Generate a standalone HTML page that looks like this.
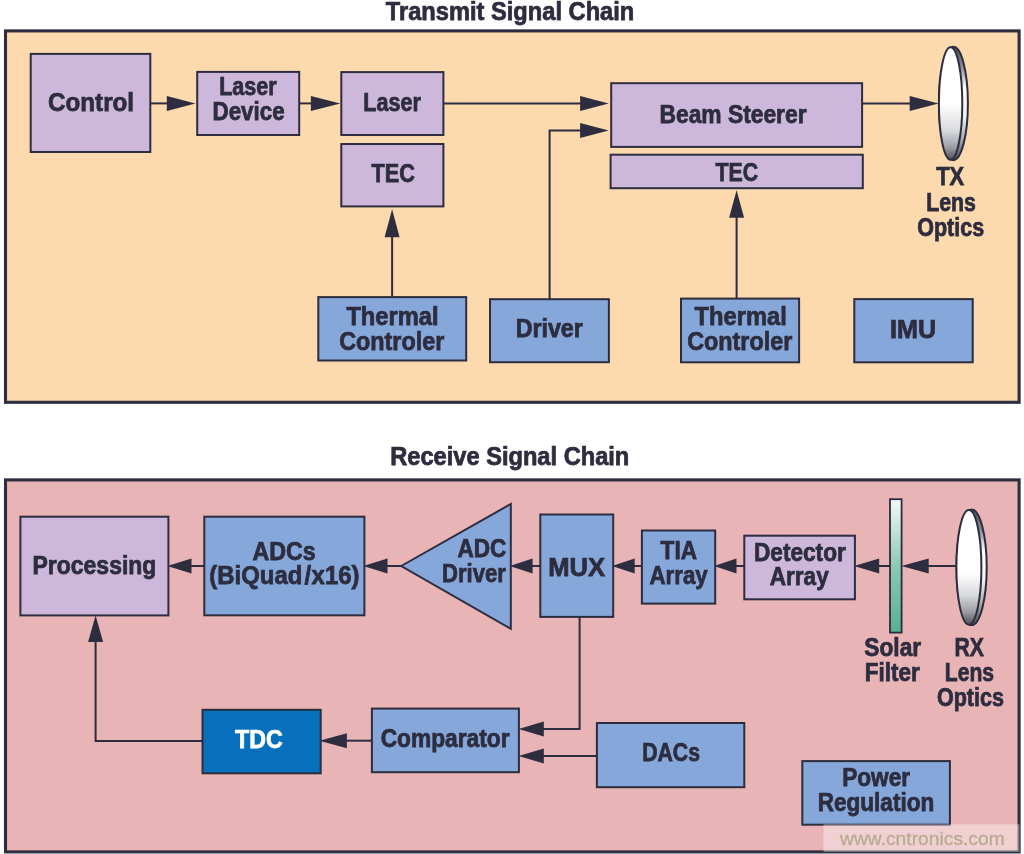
<!DOCTYPE html>
<html><head><meta charset="utf-8"><title>LIDAR Signal Chain</title>
<style>
html,body{margin:0;padding:0;background:#ffffff;}
body{width:1024px;height:854px;overflow:hidden;}
svg{display:block;will-change:transform;font-family:"Liberation Sans",sans-serif;}
</style></head><body>
<svg width="1024" height="854" viewBox="0 0 1024 854">
<defs>
<linearGradient id="lg1" x1="0" y1="0" x2="0" y2="1"><stop offset="0" stop-color="#ffffff"/><stop offset="0.5" stop-color="#ffffff"/><stop offset="0.74" stop-color="#d9dadd"/><stop offset="0.89" stop-color="#9c9da2"/><stop offset="1" stop-color="#4e5057"/></linearGradient>
<linearGradient id="lg1b" x1="0" y1="0" x2="0" y2="1"><stop offset="0" stop-color="#4b4d55"/><stop offset="0.18" stop-color="#8d8f96"/><stop offset="0.36" stop-color="#ffffff"/><stop offset="0.6" stop-color="#f4f4f4"/><stop offset="0.82" stop-color="#a9aaad"/><stop offset="1" stop-color="#4b4d52"/></linearGradient>
<linearGradient id="lg2" x1="0" y1="0" x2="0" y2="1"><stop offset="0" stop-color="#ffffff"/><stop offset="0.55" stop-color="#ffffff"/><stop offset="0.74" stop-color="#d9dadd"/><stop offset="0.89" stop-color="#9c9da2"/><stop offset="1" stop-color="#4e5057"/></linearGradient>
<linearGradient id="lg2b" x1="0" y1="0" x2="0" y2="1"><stop offset="0" stop-color="#4b4d55"/><stop offset="0.18" stop-color="#8d8f96"/><stop offset="0.36" stop-color="#ffffff"/><stop offset="0.6" stop-color="#f4f4f4"/><stop offset="0.82" stop-color="#a9aaad"/><stop offset="1" stop-color="#4b4d52"/></linearGradient>
<linearGradient id="flt" x1="0" y1="0" x2="0" y2="1"><stop offset="0" stop-color="#f4f9f6"/><stop offset="0.5" stop-color="#8cc9b2"/><stop offset="1" stop-color="#57b08f"/></linearGradient>
</defs>
<text x="385.86" y="20.20" font-size="25.3" font-weight="bold" fill="#2d2d3f" stroke="#2d2d3f" stroke-width="0.75" textLength="248.39" lengthAdjust="spacingAndGlyphs">Transmit Signal Chain</text>
<text x="390.25" y="465.40" font-size="25.3" font-weight="bold" fill="#2d2d3f" stroke="#2d2d3f" stroke-width="0.75" textLength="239.05" lengthAdjust="spacingAndGlyphs">Receive Signal Chain</text>
<rect x="5.5" y="30.9" width="1013.60" height="371.40" fill="#fdd9ae" stroke="#2d2d3f" stroke-width="3.1"/>
<path d="M151 103.4 L170 103.4" fill="none" stroke="#2d2d3f" stroke-width="2.0"/>
<polygon points="195.40,103.40 166.80,95.90 166.80,110.90" fill="#2d2d3f"/>
<path d="M300 103.4 L315 103.4" fill="none" stroke="#2d2d3f" stroke-width="2.0"/>
<polygon points="340.40,103.40 310.90,95.90 310.90,110.90" fill="#2d2d3f"/>
<path d="M444 103.4 L585 103.4" fill="none" stroke="#2d2d3f" stroke-width="2.0"/>
<polygon points="608.80,103.40 580.10,95.90 580.10,110.90" fill="#2d2d3f"/>
<path d="M549.6 299 L549.6 130.4 L585 130.4" fill="none" stroke="#2d2d3f" stroke-width="2.0"/>
<polygon points="608.80,130.40 580.10,122.90 580.10,137.90" fill="#2d2d3f"/>
<path d="M862 103.4 L912 103.4" fill="none" stroke="#2d2d3f" stroke-width="2.0"/>
<polygon points="938.60,103.40 909.70,95.90 909.70,110.90" fill="#2d2d3f"/>
<path d="M392.1 297 L392.1 235" fill="none" stroke="#2d2d3f" stroke-width="2.0"/>
<polygon points="392.10,209.20 384.60,237.20 399.60,237.20" fill="#2d2d3f"/>
<path d="M736.6 298 L736.6 216" fill="none" stroke="#2d2d3f" stroke-width="2.0"/>
<polygon points="736.60,190.20 729.10,217.80 744.10,217.80" fill="#2d2d3f"/>
<rect x="30.7" y="53.9" width="119.60" height="98.10" fill="#cdb8db" stroke="#2d2d3f" stroke-width="2"/>
<rect x="197.2" y="71.9" width="102.00" height="63.10" fill="#cdb8db" stroke="#2d2d3f" stroke-width="2"/>
<rect x="341.3" y="72.1" width="102.10" height="62.90" fill="#cdb8db" stroke="#2d2d3f" stroke-width="2"/>
<rect x="341.3" y="144" width="102.10" height="62.40" fill="#cdb8db" stroke="#2d2d3f" stroke-width="2"/>
<rect x="611.2" y="83.2" width="250.90" height="63.70" fill="#cdb8db" stroke="#2d2d3f" stroke-width="2"/>
<rect x="610.6" y="154.7" width="252.20" height="33.50" fill="#cdb8db" stroke="#2d2d3f" stroke-width="2"/>
<rect x="318.3" y="297.1" width="147.90" height="63.40" fill="#85a7d9" stroke="#2d2d3f" stroke-width="2"/>
<rect x="490" y="299.2" width="118.90" height="63.00" fill="#85a7d9" stroke="#2d2d3f" stroke-width="2"/>
<rect x="681" y="298.6" width="118.10" height="63.70" fill="#85a7d9" stroke="#2d2d3f" stroke-width="2"/>
<rect x="854.3" y="299.1" width="118.40" height="63.20" fill="#85a7d9" stroke="#2d2d3f" stroke-width="2"/>
<text x="48.09" y="110.60" font-size="25.3" font-weight="bold" fill="#2d2d3f" stroke="#2d2d3f" stroke-width="0.75" textLength="86.00" lengthAdjust="spacingAndGlyphs">Control</text>
<text x="219.20" y="95.10" font-size="25.3" font-weight="bold" fill="#2d2d3f" stroke="#2d2d3f" stroke-width="0.75" textLength="57.50" lengthAdjust="spacingAndGlyphs">Laser</text>
<text x="212.50" y="120.10" font-size="25.3" font-weight="bold" fill="#2d2d3f" stroke="#2d2d3f" stroke-width="0.75" textLength="72.10" lengthAdjust="spacingAndGlyphs">Device</text>
<text x="363.32" y="110.70" font-size="25.3" font-weight="bold" fill="#2d2d3f" stroke="#2d2d3f" stroke-width="0.75" textLength="57.63" lengthAdjust="spacingAndGlyphs">Laser</text>
<text x="371.43" y="181.80" font-size="25.3" font-weight="bold" fill="#2d2d3f" stroke="#2d2d3f" stroke-width="0.75" textLength="43.41" lengthAdjust="spacingAndGlyphs">TEC</text>
<text x="659.55" y="122.60" font-size="25.3" font-weight="bold" fill="#2d2d3f" stroke="#2d2d3f" stroke-width="0.75" textLength="146.99" lengthAdjust="spacingAndGlyphs">Beam Steerer</text>
<text x="715.44" y="180.60" font-size="25.3" font-weight="bold" fill="#2d2d3f" stroke="#2d2d3f" stroke-width="0.75" textLength="42.65" lengthAdjust="spacingAndGlyphs">TEC</text>
<text x="936.21" y="185.20" font-size="25.3" font-weight="bold" fill="#2d2d3f" stroke="#2d2d3f" stroke-width="0.75" textLength="27.97" lengthAdjust="spacingAndGlyphs">TX</text>
<text x="926.16" y="210.60" font-size="25.3" font-weight="bold" fill="#2d2d3f" stroke="#2d2d3f" stroke-width="0.75" textLength="49.78" lengthAdjust="spacingAndGlyphs">Lens</text>
<text x="917.15" y="235.80" font-size="25.3" font-weight="bold" fill="#2d2d3f" stroke="#2d2d3f" stroke-width="0.75" textLength="66.99" lengthAdjust="spacingAndGlyphs">Optics</text>
<text x="346.40" y="324.50" font-size="25.3" font-weight="bold" fill="#2d2d3f" stroke="#2d2d3f" stroke-width="0.75" textLength="92.16" lengthAdjust="spacingAndGlyphs">Thermal</text>
<text x="339.21" y="349.50" font-size="25.3" font-weight="bold" fill="#2d2d3f" stroke="#2d2d3f" stroke-width="0.75" textLength="105.01" lengthAdjust="spacingAndGlyphs">Controler</text>
<text x="515.63" y="337.40" font-size="25.3" font-weight="bold" fill="#2d2d3f" stroke="#2d2d3f" stroke-width="0.75" textLength="67.22" lengthAdjust="spacingAndGlyphs">Driver</text>
<text x="694.54" y="324.80" font-size="25.3" font-weight="bold" fill="#2d2d3f" stroke="#2d2d3f" stroke-width="0.75" textLength="92.19" lengthAdjust="spacingAndGlyphs">Thermal</text>
<text x="687.21" y="349.80" font-size="25.3" font-weight="bold" fill="#2d2d3f" stroke="#2d2d3f" stroke-width="0.75" textLength="105.01" lengthAdjust="spacingAndGlyphs">Controler</text>
<text x="890.00" y="337.50" font-size="25.3" font-weight="bold" fill="#2d2d3f" stroke="#2d2d3f" stroke-width="0.75" textLength="46.12" lengthAdjust="spacingAndGlyphs">IMU</text>
<ellipse cx="953.4" cy="103.5" rx="14.5" ry="56.699999999999996" fill="url(#lg1b)" stroke="#2d2d3f" stroke-width="2"/>
<ellipse cx="950.6" cy="103.5" rx="11.7" ry="56.3" fill="url(#lg1)" stroke="#2d2d3f" stroke-width="2"/>
<rect x="5.5" y="479.9" width="1013.60" height="372.00" fill="#e8b4b5" stroke="#2d2d3f" stroke-width="3.1"/>
<path d="M190 566 L204 566" fill="none" stroke="#2d2d3f" stroke-width="2.0"/>
<polygon points="167.30,566.00 191.50,558.50 191.50,573.50" fill="#2d2d3f"/>
<path d="M386 566 L402 566" fill="none" stroke="#2d2d3f" stroke-width="2.0"/>
<polygon points="363.30,566.00 387.50,558.50 387.50,573.50" fill="#2d2d3f"/>
<path d="M531 566 L540 566" fill="none" stroke="#2d2d3f" stroke-width="2.0"/>
<polygon points="509.70,566.00 532.60,558.50 532.60,573.50" fill="#2d2d3f"/>
<path d="M633 566 L642 566" fill="none" stroke="#2d2d3f" stroke-width="2.0"/>
<polygon points="612.00,566.00 634.70,558.50 634.70,573.50" fill="#2d2d3f"/>
<path d="M735 566 L744 566" fill="none" stroke="#2d2d3f" stroke-width="2.0"/>
<polygon points="714.00,566.00 736.50,558.50 736.50,573.50" fill="#2d2d3f"/>
<path d="M877 566 L890 566" fill="none" stroke="#2d2d3f" stroke-width="2.0"/>
<polygon points="854.10,566.00 879.20,558.50 879.20,573.50" fill="#2d2d3f"/>
<path d="M926 566 L956.5 566" fill="none" stroke="#2d2d3f" stroke-width="2.0"/>
<polygon points="901.40,566.00 928.70,558.50 928.70,573.50" fill="#2d2d3f"/>
<path d="M579.6 616 L579.6 729 L542 729" fill="none" stroke="#2d2d3f" stroke-width="2.0"/>
<polygon points="518.60,729.00 543.80,721.50 543.80,736.50" fill="#2d2d3f"/>
<path d="M597 755.9 L542 755.9" fill="none" stroke="#2d2d3f" stroke-width="2.0"/>
<polygon points="518.60,755.90 543.80,748.40 543.80,763.40" fill="#2d2d3f"/>
<path d="M371.5 740.7 L345 740.7" fill="none" stroke="#2d2d3f" stroke-width="2.0"/>
<polygon points="319.40,740.70 346.90,733.20 346.90,748.20" fill="#2d2d3f"/>
<path d="M202.5 740.9 L95.6 740.9 L95.6 640" fill="none" stroke="#2d2d3f" stroke-width="2.0"/>
<polygon points="95.60,615.60 88.10,642.10 103.10,642.10" fill="#2d2d3f"/>
<rect x="20.4" y="516.7" width="148.00" height="98.70" fill="#cdb8db" stroke="#2d2d3f" stroke-width="2"/>
<rect x="204.3" y="516.7" width="160.10" height="98.60" fill="#85a7d9" stroke="#2d2d3f" stroke-width="2"/>
<polygon points="401.2,566 510.8,504.0 510.8,628.8" fill="#85a7d9" stroke="#2d2d3f" stroke-width="2" stroke-linejoin="miter"/>
<rect x="540.3" y="514.5" width="72.90" height="102.40" fill="#85a7d9" stroke="#2d2d3f" stroke-width="2"/>
<rect x="641.9" y="530.5" width="73.30" height="73.10" fill="#85a7d9" stroke="#2d2d3f" stroke-width="2"/>
<rect x="744.3" y="535.7" width="110.60" height="63.60" fill="#cdb8db" stroke="#2d2d3f" stroke-width="2"/>
<rect x="890" y="499.2" width="11.6" height="133.4" fill="url(#flt)" stroke="#2d2d3f" stroke-width="1.8"/>
<rect x="202.5" y="709.8" width="118.20" height="63.50" fill="#0670bd" stroke="#2d2d3f" stroke-width="2"/>
<rect x="371.9" y="708.6" width="147.00" height="63.60" fill="#85a7d9" stroke="#2d2d3f" stroke-width="2"/>
<rect x="596.9" y="723" width="147.40" height="64.20" fill="#85a7d9" stroke="#2d2d3f" stroke-width="2"/>
<rect x="802.3" y="761.1" width="147.60" height="63.60" fill="#85a7d9" stroke="#2d2d3f" stroke-width="2"/>
<text x="32.57" y="573.80" font-size="25.3" font-weight="bold" fill="#2d2d3f" stroke="#2d2d3f" stroke-width="0.75" textLength="123.76" lengthAdjust="spacingAndGlyphs">Processing</text>
<text x="252.46" y="559.50" font-size="25.3" font-weight="bold" fill="#2d2d3f" stroke="#2d2d3f" stroke-width="0.75" textLength="63.26" lengthAdjust="spacingAndGlyphs">ADCs</text>
<text x="209.37" y="584.20" font-size="25.3" font-weight="bold" fill="#2d2d3f" stroke="#2d2d3f" stroke-width="0.75" textLength="150.10" lengthAdjust="spacingAndGlyphs">(BiQuad<tspan dx="2.4">/</tspan><tspan dx="0.4">x16)</tspan></text>
<text x="457.39" y="557.20" font-size="25.3" font-weight="bold" fill="#2d2d3f" stroke="#2d2d3f" stroke-width="0.75" textLength="48.94" lengthAdjust="spacingAndGlyphs">ADC</text>
<text x="442.00" y="582.30" font-size="25.3" font-weight="bold" fill="#2d2d3f" stroke="#2d2d3f" stroke-width="0.75" textLength="63.77" lengthAdjust="spacingAndGlyphs">Driver</text>
<text x="548.28" y="576.00" font-size="25.3" font-weight="bold" fill="#2d2d3f" stroke="#2d2d3f" stroke-width="0.75" textLength="56.85" lengthAdjust="spacingAndGlyphs">MUX</text>
<text x="660.58" y="559.20" font-size="25.3" font-weight="bold" fill="#2d2d3f" stroke="#2d2d3f" stroke-width="0.75" textLength="36.40" lengthAdjust="spacingAndGlyphs">TIA</text>
<text x="649.40" y="584.20" font-size="25.3" font-weight="bold" fill="#2d2d3f" stroke="#2d2d3f" stroke-width="0.75" textLength="58.37" lengthAdjust="spacingAndGlyphs">Array</text>
<text x="753.96" y="560.50" font-size="25.3" font-weight="bold" fill="#2d2d3f" stroke="#2d2d3f" stroke-width="0.75" textLength="91.83" lengthAdjust="spacingAndGlyphs">Detector</text>
<text x="769.84" y="585.10" font-size="25.3" font-weight="bold" fill="#2d2d3f" stroke="#2d2d3f" stroke-width="0.75" textLength="58.84" lengthAdjust="spacingAndGlyphs">Array</text>
<text x="235.05" y="747.50" font-size="25.3" font-weight="bold" fill="#ffffff" stroke="#ffffff" stroke-width="0.75" textLength="47.73" lengthAdjust="spacingAndGlyphs">TDC</text>
<text x="380.66" y="747.40" font-size="25.3" font-weight="bold" fill="#2d2d3f" stroke="#2d2d3f" stroke-width="0.75" textLength="128.91" lengthAdjust="spacingAndGlyphs">Comparator</text>
<text x="642.13" y="761.40" font-size="25.3" font-weight="bold" fill="#2d2d3f" stroke="#2d2d3f" stroke-width="0.75" textLength="57.85" lengthAdjust="spacingAndGlyphs">DACs</text>
<text x="842.13" y="785.70" font-size="25.3" font-weight="bold" fill="#2d2d3f" stroke="#2d2d3f" stroke-width="0.75" textLength="67.95" lengthAdjust="spacingAndGlyphs">Power</text>
<text x="817.64" y="810.70" font-size="25.3" font-weight="bold" fill="#2d2d3f" stroke="#2d2d3f" stroke-width="0.75" textLength="116.63" lengthAdjust="spacingAndGlyphs">Regulation</text>
<text x="864.34" y="656.00" font-size="25.3" font-weight="bold" fill="#2d2d3f" stroke="#2d2d3f" stroke-width="0.75" textLength="56.84" lengthAdjust="spacingAndGlyphs">Solar</text>
<text x="864.74" y="680.70" font-size="25.3" font-weight="bold" fill="#2d2d3f" stroke="#2d2d3f" stroke-width="0.75" textLength="54.89" lengthAdjust="spacingAndGlyphs">Filter</text>
<text x="954.49" y="656.00" font-size="25.3" font-weight="bold" fill="#2d2d3f" stroke="#2d2d3f" stroke-width="0.75" textLength="29.52" lengthAdjust="spacingAndGlyphs">RX</text>
<text x="944.86" y="681.00" font-size="25.3" font-weight="bold" fill="#2d2d3f" stroke="#2d2d3f" stroke-width="0.75" textLength="49.23" lengthAdjust="spacingAndGlyphs">Lens</text>
<text x="936.89" y="705.50" font-size="25.3" font-weight="bold" fill="#2d2d3f" stroke="#2d2d3f" stroke-width="0.75" textLength="67.04" lengthAdjust="spacingAndGlyphs">Optics</text>
<ellipse cx="971.6" cy="567.3" rx="15.1" ry="57.8" fill="url(#lg2b)" stroke="#2d2d3f" stroke-width="2"/>
<ellipse cx="968.9" cy="567.3" rx="12.5" ry="57.4" fill="url(#lg2)" stroke="#2d2d3f" stroke-width="2"/>
<rect x="823.5" y="824.3" width="196" height="27.6" fill="#ffffff" fill-opacity="0.38"/>
<text x="840.00" y="844.80" font-size="19" font-weight="normal" fill="#b8ab93" stroke="#b8ab93" stroke-width="0.3" textLength="164.74" lengthAdjust="spacingAndGlyphs">www.cntronics.com</text>
</svg>
</body></html>
